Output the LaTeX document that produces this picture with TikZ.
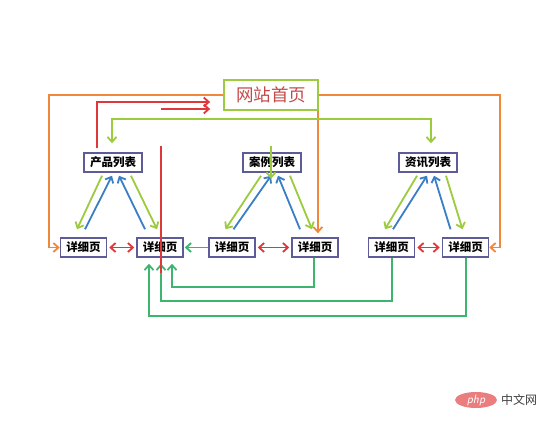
\documentclass[tikz,border=0pt]{standalone}
\usepackage{fontspec}
\newfontfamily\cjk{Noto Sans CJK SC}
\usetikzlibrary{arrows.meta,shapes.geometric}
\definecolor{cOr}{HTML}{F0883A}
\definecolor{cRe}{HTML}{E0373A}
\definecolor{cLi}{HTML}{9CCB3E}
\definecolor{cBl}{HTML}{3A7EC6}
\definecolor{cGr}{HTML}{3DB56E}
\definecolor{cBox}{HTML}{5E5C98}
\definecolor{cHp}{HTML}{C44A4A}
\tikzset{
  every node/.style={font=\cjk},
  lbox/.style={draw=cBox, line width=1.5pt, fill=white, minimum width=58pt, minimum height=19pt, inner sep=0pt, font=\cjk\bfseries\fontsize{11.5}{12}\selectfont},
  dbox/.style={draw=cBox, line width=1.5pt, fill=white, minimum width=46pt, minimum height=19pt, inner sep=0pt, font=\cjk\bfseries\fontsize{11.5}{12}\selectfont},
  hpbox/.style={draw=cLi, line width=1.8pt, fill=white, minimum width=94pt, minimum height=30pt, inner sep=0pt, text=cHp, font=\cjk\fontsize{17.5}{19}\selectfont},
  tip/.tip={Straight Barb[length=5pt,width=9pt]},
  con/.style={line width=1.8pt, arrows={-tip}},
  oa/.style={con, draw=cOr},
  ra/.style={con, draw=cRe},
  la/.style={con, draw=cLi},
  ba/.style={con, draw=cBl},
  ga/.style={con, draw=cGr},
  both/.style={arrows={tip-tip}},
}
\newcommand\trio[3]{%
  \draw[la] ([shift={(-11,3)}]#1.south) -- ([shift={(-6.5,-8)}]#2.north);
  \draw[ba] ([shift={(1.5,-8)}]#2.north) -- ([shift={(-1,3)}]#1.south);
  \draw[ba] ([shift={(-15,-8)}]#3.north) -- ([shift={(6,3)}]#1.south);
  \draw[la] ([shift={(18,3)}]#1.south) -- ([shift={(-3,-8)}]#3.north);
}
\begin{document}
\begin{tikzpicture}[x=1pt,y=-1pt]
\fill[white] (0,0) rectangle (555,434);
\useasboundingbox (0,0) rectangle (555,434);
% nodes
\node[hpbox] (hp) at (271,95) {网站首页};
\node[lbox] (l1) at (113,162.5) {产品列表};
\node[lbox] (l2) at (272,162.5) {案例列表};
\node[lbox] (l3) at (428,162.5) {资讯列表};
\node[dbox] (d1) at (83.5,247.5) {详细页};
\node[dbox] (d2) at (160,247.5) {详细页};
\node[dbox] (d3) at (232,247.5) {详细页};
\node[dbox] (d4) at (315,247.5) {详细页};
\node[dbox] (d5) at (391.5,247.5) {详细页};
\node[dbox] (d6) at (465.5,247.5) {详细页};
% orange
\draw[oa] (hp.west) -| ([xshift=-11pt]d1.west) -- (d1.west);
\draw[oa] (hp.east) -| ([xshift=11pt]d6.east) -- (d6.east);
\draw[oa] ([xshift=-1pt]hp.south east) -- ([shift={(-1,-4)}]hp.south east |- d4.north);
% red
\draw[ra] ([shift={(-16,-4)}]l1.north) |- ([shift={(-13,7)}]hp.west);
\coordinate (r2) at (161,109);
\draw[ra] (r2) -- ([shift={(-13,14)}]hp.west);
% green top
\draw[la,both] ([shift={(-1,-9)}]l1.north) -- ++(0,-24) -| ([shift={(3,-9)}]l3.north);
% triangles
\trio{l1}{d1}{d2}
\trio{l2}{d3}{d4}
\trio{l3}{d5}{d6}
% middle vertical green
\draw[la] ([shift={(-1,-6)}]l2.north) -- ([shift={(-1,6)}]l2.south);
% horizontal links
\draw[ra,both] ([xshift=2pt]d1.east) -- ([xshift=-2pt]d2.west);
\draw[ra,both] ([xshift=2pt]d3.east) -- ([xshift=-2pt]d4.west);
\draw[ra,both] ([xshift=2pt]d5.east) -- ([xshift=-2pt]d6.west);
\draw[ga] (d3.west) -- ([xshift=1pt]d2.east);
% bottom greens
\draw[ga] ([xshift=-1pt]d4.south) -- ++(0,29) -| ([shift={(12,6)}]d2.south);
\draw[ga] ([xshift=0.5pt]d5.south) -- ++(0,43) -| ([shift={(1,6)}]d2.south);
\draw[ga] ([xshift=0.5pt]d6.south) -- ++(0,58) -| ([shift={(-11,6)}]d2.south);
% red vertical
\coordinate (rv1) at (161,146);
\coordinate (rv2) at (161,273);
\draw[cRe, line width=1.8pt] (rv1) -- (rv2);
% watermark
\node[ellipse, fill=cRe!65, minimum width=42pt, minimum height=16pt, inner sep=0pt, text=white, font=\sffamily\itshape\fontsize{12}{12}\selectfont] (php) at (476,400) {php};
\node[anchor=west, text=black!75, font=\cjk\fontsize{12}{12}\selectfont, inner sep=0pt] (zw) at (501,400) {中文网};
\end{tikzpicture}
\end{document}
